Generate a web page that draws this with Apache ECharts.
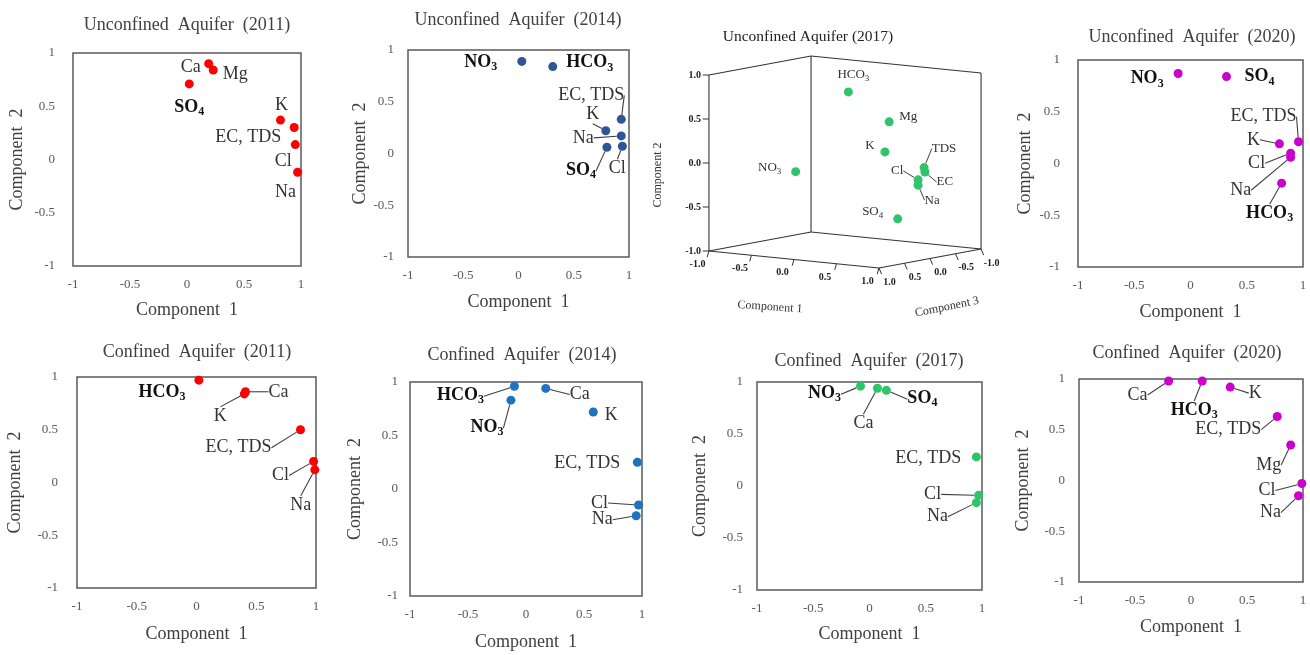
<!DOCTYPE html>
<html><head><meta charset="utf-8">
<script src="https://cdn.jsdelivr.net/npm/echarts@6/dist/echarts.min.js"></script>
<style>html,body{margin:0;padding:0;background:#fff}#c{width:1310px;height:655px}</style>
</head><body><div id="c"></div>
<script>
// ---------------- DATA ----------------
// Unconfined 2011
const u11Names = ['Ca','Mg','SO4','K','EC, TDS','Cl','Na'];
const u11C1 = [0.19,0.23,0.02,0.82,0.94,0.95,0.97];
const u11C2 = [0.90,0.84,0.71,0.37,0.30,0.14,-0.12];
// Unconfined 2014
const u14Names = ['NO3','HCO3','EC, TDS','K','Na','SO4','Cl'];
const u14C1 = [0.03,0.31,0.93,0.79,0.93,0.80,0.94];
const u14C2 = [0.89,0.84,0.33,0.22,0.17,0.06,0.07];
// Unconfined 2017 (3 components)
const u17Names = ['HCO3','Mg','K','NO3','TDS','EC','Cl','Na','SO4'];
const u17C1 = [0.22,0.64,0.65,-0.16,0.87,0.88,0.86,0.86,0.86];
const u17C2 = [0.85,0.54,0.21,-0.05,0.01,-0.04,-0.12,-0.18,-0.52];
const u17C3 = [0.30,0.20,0.30,0.70,-0.10,-0.10,0.00,0.00,0.40];
// Unconfined 2020
const u20Names = ['NO3','SO4','EC, TDS','K','Cl','Na','HCO3'];
const u20C1 = [-0.11,0.32,0.96,0.79,0.89,0.89,0.81];
const u20C2 = [0.87,0.84,0.21,0.19,0.10,0.06,-0.19];
// Confined 2011
const c11Names = ['HCO3','Ca','K','EC, TDS','Cl','Na'];
const c11C1 = [0.02,0.41,0.40,0.87,0.98,0.99];
const c11C2 = [0.97,0.86,0.84,0.50,0.20,0.12];
// Confined 2014
const c14Names = ['HCO3','NO3','Ca','K','EC, TDS','Cl','Na'];
const c14C1 = [-0.10,-0.13,0.17,0.58,0.96,0.97,0.95];
const c14C2 = [0.96,0.83,0.94,0.72,0.25,-0.15,-0.25];
// Confined 2017
const c17Names = ['NO3','Ca','SO4','EC, TDS','Cl','Na'];
const c17C1 = [-0.08,0.07,0.15,0.95,0.97,0.95];
const c17C2 = [0.96,0.94,0.92,0.28,-0.09,-0.16];
// Confined 2020
const c20Names = ['Ca','HCO3','K','EC, TDS','Mg','Cl','Na'];
const c20C1 = [-0.20,0.10,0.35,0.77,0.89,0.99,0.96];
const c20C2 = [0.98,0.98,0.92,0.63,0.35,-0.03,-0.15];
// 3D axis ticks
const ticks3d = [-1,-0.5,0,0.5,1];

// ---------------- LABEL LAYOUT (dx, dy, leader line) ----------------
const u11Lbl = [[-18,4,0],[22,4,0],[0,23,0],[1,-15,0],[-46,10,0],[-12,17,0],[-12,20,0]];
const u14Lbl = [[-41,1,0],[37,-4,0],[-30,-24,1],[-13,-16,1],[-38,2,1],[-26,23,1],[-5,22,1]];
const u17Lbl = [[5,-17,0],[19,-5,0],[-15,-6,0],[-26,-4,0],[20,-19,1],[20,10,1],[-21,-9,1],[14,15,1],[-25,-7,0]];
const u20Lbl = [[-31,5,0],[33,0,0],[-35,-25,1],[-26,-4,1],[-34,10,1],[-50,33,1],[-12,30,1]];
const c11Lbl = [[-37,12,0],[33,0,1],[-24,22,1],[-62,18,1],[-33,14,1],[-14,35,1]];
const c14Lbl = [[-54,9,1],[-24,27,1],[34,6,1],[18,3,0],[-50,1,0],[-39,-2,1],[-34,4,1]];
const c17Lbl = [[-36,7,1],[-14,35,1],[36,8,1],[-48,1,0],[-46,-1,1],[-39,14,1]];
const c20Lbl = [[-31,14,1],[-8,29,1],[25,6,1],[-49,13,1],[-22,20,1],[-35,7,1],[-28,17,1]];

// ---------------- STYLE ----------------
const F = '"Liberation Serif","Times New Roman",serif';
const RED = '#ff0000', NAVY = '#2f5597', BLUE = '#1f72c0', GREEN = '#2fc46a', MAG = '#cc00cc';

const panels = [
  {title:'Unconfined  Aquifer  (2011)', tx:187, ty:25, g:[73,53,228,213], n:u11Names, x:u11C1, y:u11C2, l:u11Lbl, c:RED, xg:35, yg:47, ym:18},
  {title:'Unconfined  Aquifer  (2014)', tx:518, ty:20, g:[408,50,221,207], n:u14Names, x:u14C1, y:u14C2, l:u14Lbl, c:NAVY, xg:36, yg:39, ym:14},
  {title:'Unconfined  Aquifer  (2020)', tx:1192, ty:37, g:[1078,60,225,207], n:u20Names, x:u20C1, y:u20C2, l:u20Lbl, c:MAG, xg:36, yg:44, ym:18},
  {title:'Confined  Aquifer  (2011)', tx:197, ty:352, g:[77,377,239,211], n:c11Names, x:c11C1, y:c11C2, l:c11Lbl, c:RED, xg:37, yg:53, ym:19},
  {title:'Confined  Aquifer  (2014)', tx:522, ty:355, g:[410,382,232,214], n:c14Names, x:c14C1, y:c14C2, l:c14Lbl, c:BLUE, xg:37, yg:46, ym:12},
  {title:'Confined  Aquifer  (2017)', tx:869, ty:361, g:[757,382,225,208], n:c17Names, x:c17C1, y:c17C2, l:c17Lbl, c:GREEN, xg:35, yg:48, ym:14},
  {title:'Confined  Aquifer  (2020)', tx:1187, ty:353, g:[1079,379,224,203], n:c20Names, x:c20C1, y:c20C2, l:c20Lbl, c:MAG, xg:36, yg:47, ym:14}
];

const SUBS = {SO4:['SO','4'], NO3:['NO','3'], HCO3:['HCO','3']};
function fmt(name, bold) {
  if (SUBS[name]) return bold ? '{b|'+SUBS[name][0]+'}{bs|'+SUBS[name][1]+'}' : '{n|'+SUBS[name][0]+'}{ns|'+SUBS[name][1]+'}';
  return '{n|'+name+'}';
}
function richOf(size, sub) {
  const lh = size + 4;
  return {
    n:{fontFamily:F, fontSize:size, color:'#333', lineHeight:lh},
    b:{fontFamily:F, fontSize:size, fontWeight:'bold', color:'#111', lineHeight:lh},
    ns:{fontFamily:F, fontSize:sub, color:'#333', lineHeight:sub, verticalAlign:'bottom'},
    bs:{fontFamily:F, fontSize:sub, fontWeight:'bold', color:'#111', lineHeight:sub, verticalAlign:'bottom'}
  };
}

const grid = [], xAxis = [], yAxis = [], series = [], graphic = [];

panels.forEach((p, i) => {
  grid.push({left:p.g[0], top:p.g[1], width:p.g[2], height:p.g[3], show:true, borderColor:'#595959', borderWidth:1.5, backgroundColor:'transparent'});
  xAxis.push({type:'value', gridIndex:i, min:-1, max:1, interval:0.5,
    axisLine:{show:false}, axisTick:{show:false}, splitLine:{show:false},
    axisLabel:{color:'#595959', fontSize:13, fontFamily:F, margin:12},
    name:'Component  1', nameLocation:'middle', nameGap:p.xg,
    nameTextStyle:{color:'#404040', fontSize:18, fontFamily:F}});
  yAxis.push({type:'value', gridIndex:i, min:-1, max:1, interval:0.5,
    axisLine:{show:false}, axisTick:{show:false}, splitLine:{show:false},
    axisLabel:{color:'#595959', fontSize:13, fontFamily:F, margin:p.ym},
    name:'Component  2', nameLocation:'middle', nameGap:p.yg,
    nameTextStyle:{color:'#404040', fontSize:18, fontFamily:F}});
  const lbl = p.l;
  series.push({
    type:'scatter', xAxisIndex:i, yAxisIndex:i, symbolSize:9, silent:true,
    itemStyle:{color:p.c, opacity:1},
    data:p.n.map((nm, j) => ({name:nm, value:[p.x[j], p.y[j]], labelLine:{show: lbl[j][2] === 1}})),
    label:{show:true, position:'inside', color:'#333', padding:[0,2],
      formatter: q => fmt(q.name, true), rich: richOf(18, 12)},
    labelLine:{show:false, lineStyle:{color:'#404040', width:1.1}},
    labelLayout: q => ({dx: lbl[q.dataIndex][0], dy: lbl[q.dataIndex][1]})
  });
  graphic.push({type:'text', x:p.tx, y:p.ty, silent:true,
    style:{text:p.title, fill:'#404040', font:'18px ' + F, align:'center', verticalAlign:'middle'}});
});

// ---------------- 3D panel (oblique projection onto a hidden cartesian grid) ----------------
function proj(c1, c2, c3) { return [0.966*c1 - 0.58*c3, c2 - 0.0966*c1 - 0.108*c3]; }
const gi = panels.length;
grid.push({left:704.2, top:47.6, width:281.6, height:228.8, show:false});
xAxis.push({type:'value', gridIndex:gi, min:-1.6, max:1.6, show:false});
yAxis.push({type:'value', gridIndex:gi, min:-1.3, max:1.3, show:false});

const edges = [
  [[-1,1,1],[-1,-1,1]], [[-1,1,-1],[-1,-1,-1]], [[1,1,-1],[1,-1,-1]],
  [[-1,1,1],[-1,1,-1]], [[-1,1,-1],[1,1,-1]],
  [[-1,-1,1],[-1,-1,-1]], [[-1,-1,-1],[1,-1,-1]],
  [[-1,-1,1],[1,-1,1]], [[1,-1,1],[1,-1,-1]]
];
series.push({
  type:'custom', xAxisIndex:gi, yAxisIndex:gi, silent:true, clip:false,
  encode:{x:[0,2], y:[1,3]},
  data: edges.map(e => proj(...e[0]).concat(proj(...e[1]))),
  renderItem: (params, api) => {
    const a = api.coord([api.value(0), api.value(1)]);
    const b = api.coord([api.value(2), api.value(3)]);
    return {type:'line', shape:{x1:a[0], y1:a[1], x2:b[0], y2:b[1]}, style:{stroke:'#333', lineWidth:1.1}};
  }
});

// ticks: [axis, value]
const tickItems = [];
ticks3d.forEach(t => { tickItems.push([0, t]); tickItems.push([1, t]); tickItems.push([2, t]); });
series.push({
  type:'custom', xAxisIndex:gi, yAxisIndex:gi, silent:true, clip:false,
  data: tickItems.map((it, k) => [k]),
  renderItem: (params, api) => {
    const it = tickItems[params.dataIndex];
    const t = it[1];
    let P, d, L, align;
    if (it[0] === 0) { P = proj(-1, t, 1); d = [-0.07, 0]; L = [-0.09, 0]; align = 'right'; }
    else if (it[0] === 1) { P = proj(t, -1, 1); d = [-0.02, -0.07]; L = [-0.13, -0.15]; align = 'center'; }
    else { P = proj(1, -1, t); d = [0.03, -0.07]; L = [0.12, -0.16]; align = 'center'; }
    const a = api.coord(P), b = api.coord([P[0]+d[0], P[1]+d[1]]), c = api.coord([P[0]+L[0], P[1]+L[1]]);
    return {type:'group', children:[
      {type:'line', shape:{x1:a[0], y1:a[1], x2:b[0], y2:b[1]}, style:{stroke:'#333', lineWidth:1}},
      {type:'text', x:c[0], y:c[1], style:{text:t.toFixed(1), fill:'#222', font:'bold 10px ' + F, align:align, verticalAlign:'middle'}}
    ]};
  }
});

series.push({
  type:'scatter', xAxisIndex:gi, yAxisIndex:gi, symbolSize:9, silent:true,
  itemStyle:{color:GREEN, opacity:1},
  data: u17Names.map((nm, j) => ({name:nm, value:proj(u17C1[j], u17C2[j], u17C3[j]), labelLine:{show: u17Lbl[j][2] === 1}})),
  label:{show:true, position:'inside', color:'#333', padding:[0,1],
    formatter: q => fmt(q.name, false), rich: richOf(13, 9)},
  labelLine:{show:false, lineStyle:{color:'#404040', width:1}},
  labelLayout: q => ({dx: u17Lbl[q.dataIndex][0], dy: u17Lbl[q.dataIndex][1]})
});

graphic.push({type:'text', x:808, y:37, silent:true, style:{text:'Unconfined Aquifer (2017)', fill:'#222', font:'15.5px ' + F, align:'center', verticalAlign:'middle'}});
graphic.push({type:'text', x:658, y:175, rotation:Math.PI/2, silent:true, style:{text:'Component 2', fill:'#333', font:'12px ' + F, align:'center', verticalAlign:'middle'}});
graphic.push({type:'text', x:770, y:307, rotation:-0.07, silent:true, style:{text:'Component 1', fill:'#333', font:'12px ' + F, align:'center', verticalAlign:'middle'}});
graphic.push({type:'text', x:947, y:307, rotation:0.2, silent:true, style:{text:'Component 3', fill:'#333', font:'12px ' + F, align:'center', verticalAlign:'middle'}});

const chart = echarts.init(document.getElementById('c'), null, {renderer:'canvas'});
chart.setOption({animation:false, backgroundColor:'#fff', grid, xAxis, yAxis, series, graphic});
</script>
</body></html>
